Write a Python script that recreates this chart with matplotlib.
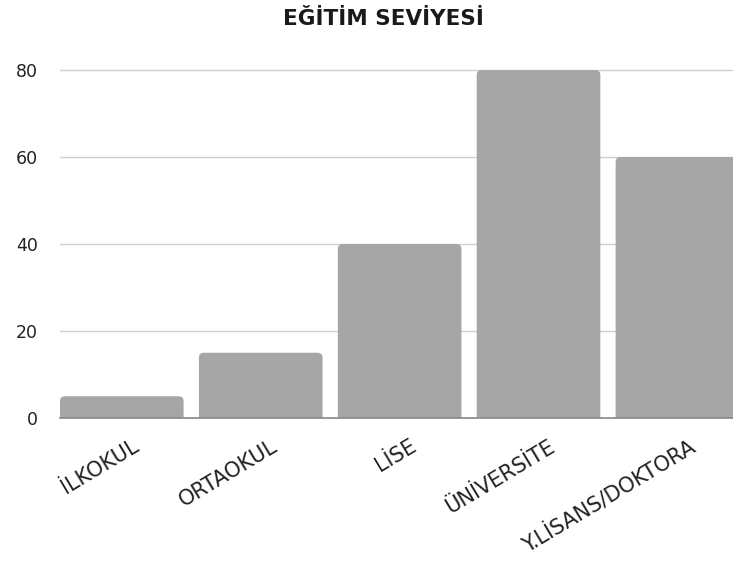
import matplotlib
matplotlib.use("Agg")
import matplotlib.pyplot as plt
import matplotlib.transforms as mtransforms
from matplotlib.patches import FancyBboxPatch

categories = ["İLKOKUL", "ORTAOKUL", "LİSE", "ÜNİVERSİTE", "Y.LİSANS/DOKTORA"]
values = [5, 15, 40, 80, 60]
yticks = [0, 20, 40, 60, 80]
title = "EĞİTİM SEVİYESİ"

W, H = 733, 561
fig = plt.figure(figsize=(W / 100, H / 100), dpi=100)
left_px, bottom_px, top_px = 60, 418, 65.7
ax = fig.add_axes([left_px / W, (H - bottom_px) / H, 1 - left_px / W, (bottom_px - top_px) / H])

bar_color = "#a6a6a6"
bw = 0.89
bars = ax.bar(range(len(categories)), values, width=bw, color=bar_color, zorder=2)
ax.set_xlim(-0.445, 4.40)
ax.set_ylim(0, 81)

# rounded top corners
fig.canvas.draw()
xpp = (ax.get_xlim()[1] - ax.get_xlim()[0]) / ax.bbox.width
ypp = (ax.get_ylim()[1] - ax.get_ylim()[0]) / ax.bbox.height
r = 5 * xpp
for b in bars:
    b.set_visible(False)
    x, w, h = b.get_x(), b.get_width(), b.get_height()
    p = FancyBboxPatch((x + r, -10), w - 2 * r, h + 10 - r * ypp / xpp,
                       boxstyle=f"round,pad={r},rounding_size={r}",
                       mutation_aspect=ypp / xpp,
                       facecolor=bar_color, edgecolor="none", zorder=2)
    ax.add_patch(p)

ax.set_yticks(yticks)
ax.set_yticklabels([str(v) for v in yticks], fontsize=12.5, family="DejaVu Sans", color="#222222")
ax.yaxis.grid(True, color="#d0d0d0", linewidth=1, zorder=0)
ax.tick_params(axis="y", length=0, pad=16)
ax.tick_params(axis="x", length=0, pad=13)
for s in ["top", "right", "left"]:
    ax.spines[s].set_visible(False)
ax.spines["bottom"].set_color("#888888")
ax.spines["bottom"].set_linewidth(1.2)
ax.spines["bottom"].set_zorder(3)

ax.set_xticks(range(len(categories)))
ax.set_xticklabels(categories, rotation=31, ha="right", rotation_mode="anchor",
                   fontsize=15, family="DejaVu Sans", color="#222222")
offset = mtransforms.ScaledTranslation(10 / 100, 0, fig.dpi_scale_trans)
for lab in ax.get_xticklabels():
    lab.set_transform(lab.get_transform() + offset)

fig.text(383 / W, 1 - 19 / H, title, ha="center", va="center", fontsize=15.5,
         family="DejaVu Sans", fontweight="bold", color="#1a1a1a")

fig.savefig("out.png", dpi=100)
